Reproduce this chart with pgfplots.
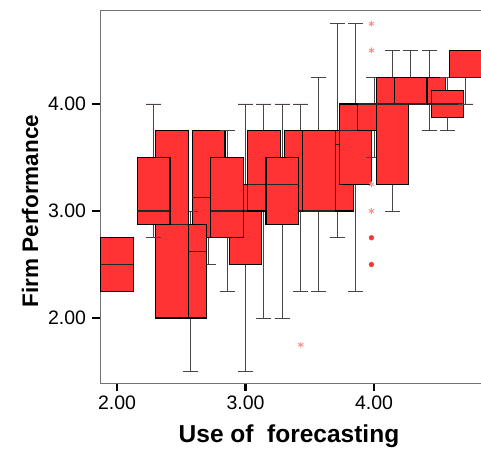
\documentclass[border=0pt]{standalone}
\usepackage{fontspec}
\setmainfont{Liberation Sans}
\usepackage{pgfplots}
\pgfplotsset{compat=1.18}
\usepgfplotslibrary{statistics}
\definecolor{boxred}{RGB}{255,51,51}
\definecolor{whisk}{RGB}{70,70,70}
\pgfplotsset{
  bx/.style n args={6}{boxplot prepared={draw direction=y, draw position=#1, lower whisker=#2, lower quartile=#3, median=#4, upper quartile=#5, upper whisker=#6, box extend=0.253, whisker extend=0.117}},
  redbox/.style={fill=boxred, draw=black, line width=1.2bp,
    boxplot/every whisker/.style={draw=whisk, line width=0.9bp},
    boxplot/every median/.style={draw=black!85, line width=1.1bp}},
}
\begin{document}
\begin{tikzpicture}
\useasboundingbox (0,0) rectangle (481bp,452bp);
\begin{axis}[
  at={(100bp,69bp)}, anchor=south west,
  width=381bp, height=372bp, scale only axis,
  xmin=1.8677, xmax=4.8327, ymin=1.393, ymax=4.869,
  xtick={2,3,4}, ytick={2,3,4},
  xtick pos=lower, ytick pos=left,
  tick align=outside, major tick length=7.5bp,
  tick style={black, line width=2.4bp},
  axis line style={draw=black!55, line width=1bp},
  /pgf/number format/.cd, fixed, fixed zerofill, precision=2, assume math mode=true,
  /pgfplots/.cd,
  ticklabel style={font=\fontsize{19.5bp}{22bp}\selectfont, black},
  xticklabel style={anchor=center, yshift=-12bp},
  yticklabel style={anchor=east, xshift=-3bp},
  xlabel={Use of\ \ forecasting},
  ylabel={Firm Performance},
  xlabel style={at={(axis description cs:0.496,-0.1425)}, anchor=center, font=\bfseries\fontsize{24.5bp}{28bp}\selectfont},
  ylabel style={at={(axis description cs:-0.1837,0.462)}, anchor=center, font=\bfseries\fontsize{22.5bp}{26bp}\selectfont},
]
% drawing order chosen to mimic overlaps
\addplot[redbox, bx={2.000}{2.25}{2.25}{2.5}{2.75}{2.75}] coordinates {};
\addplot[redbox, bx={2.714}{2.5}{2.75}{3.125}{3.75}{3.75}] coordinates {};
\addplot[redbox, bx={2.571}{1.5}{2.0}{2.625}{2.875}{3.0}] coordinates {};
\addplot[redbox, bx={2.429}{2.0}{2.0}{2.875}{3.75}{3.75}] coordinates {};
\addplot[redbox, bx={2.286}{2.75}{2.875}{3.0}{3.5}{4.0}] coordinates {};
\addplot[redbox, bx={3.000}{1.5}{2.5}{3.0}{3.25}{4.0}] coordinates {};
\addplot[redbox, bx={2.857}{2.25}{2.75}{3.0}{3.5}{3.75}] coordinates {};
\addplot[redbox, bx={3.143}{2.0}{3.0}{3.25}{3.75}{4.0}] coordinates {};
\addplot[redbox, bx={3.429}{2.25}{3.0}{3.0}{3.75}{4.0}] coordinates {};
\addplot[redbox, bx={3.286}{2.0}{2.875}{3.25}{3.5}{4.0}] coordinates {};
\addplot[redbox, bx={3.714}{2.75}{3.0}{3.625}{3.75}{4.75}] coordinates {};
\addplot[redbox, bx={3.571}{2.25}{3.0}{3.0}{3.75}{4.25}] coordinates {};
\addplot[redbox, bx={3.857}{2.25}{3.25}{3.75}{4.0}{4.75}] coordinates {};
\addplot[redbox, bx={4.000}{3.5}{3.75}{4.0}{4.0}{4.25}] coordinates {};
% outliers and extremes
\addplot[only marks, mark=*, mark size=2.4bp, color=boxred] coordinates {(3.98,2.75) (3.98,2.5)};
\addplot[only marks, mark=asterisk, mark size=3bp, color=boxred!55, line width=0.9bp] coordinates {(3.98,4.75) (3.98,4.5) (3.98,3.25) (3.98,3.0) (3.43,1.75)};
\addplot[redbox, bx={4.143}{3.0}{3.25}{4.0}{4.25}{4.5}] coordinates {};
\addplot[redbox, bx={4.429}{3.75}{4.0}{4.0}{4.25}{4.5}] coordinates {};
\addplot[redbox, bx={4.286}{4.0}{4.0}{4.0}{4.25}{4.5}] coordinates {};
\addplot[redbox, bx={4.571}{3.75}{3.875}{4.0}{4.125}{4.25}] coordinates {};
\addplot[redbox, bx={4.714}{4.0}{4.25}{4.25}{4.5}{4.5}] coordinates {};
\end{axis}
\end{tikzpicture}
\end{document}
